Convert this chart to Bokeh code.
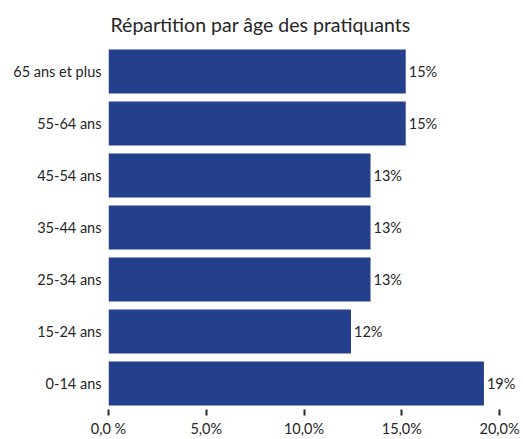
from bokeh.plotting import figure
from bokeh.models import FactorRange, FixedTicker, Range1d, ColumnDataSource
from bokeh.core.properties import value
from bokeh.embed import file_html
from bokeh.resources import INLINE

# Data (bottom to top)
categories = ["0-14 ans", "15-24 ans", "25-34 ans", "35-44 ans", "45-54 ans", "55-64 ans", "65 ans et plus"]
shares = [19.2, 12.4, 13.4, 13.4, 13.4, 15.2, 15.2]
share_labels = ["19%", "12%", "13%", "13%", "13%", "15%", "15%"]
tick_values = [0, 5, 10, 15, 20]
tick_labels = ["0,0 %", "5,0%", "10,0%", "15,0%", "20,0%"]
title_text = "Répartition par âge des pratiquants"

FONT = "Lato"
TEXT_COLOR = "#262626"
BAR_COLOR = "#243F8B"

src = ColumnDataSource(dict(cat=categories, val=shares, lab=share_labels))

p = figure(
    width=523, height=439,
    y_range=FactorRange(*categories, range_padding=0),
    x_range=Range1d(0, 21.07),
    output_backend="svg", toolbar_location=None,
    min_border_left=108, min_border_right=3,
    min_border_top=45, min_border_bottom=26,
)
p.outline_line_color = None
p.background_fill_color = "white"
p.border_fill_color = "white"

p.title.text = title_text
p.title.text_font = FONT
p.title.text_font_size = "19.5px"
p.title.text_font_style = "normal"
p.title.text_color = TEXT_COLOR
p.title.align = "left"
p.title.offset = 2
p.title.standoff = 20

p.hbar(y="cat", right="val", left=0, height=0.85, source=src,
       fill_color=BAR_COLOR, line_color=None)
p.text(x="val", y="cat", text="lab", source=src, x_offset=3,
       text_baseline="middle", text_align="left",
       text_font=value(FONT), text_font_size="14.5px", text_color=TEXT_COLOR)

p.xgrid.grid_line_color = None
p.ygrid.grid_line_color = None

xa = p.xaxis[0]
xa.ticker = FixedTicker(ticks=tick_values)
xa.major_label_overrides = {v: l for v, l in zip(tick_values, tick_labels)}
xa.axis_line_color = None
xa.major_tick_in = 0
xa.major_tick_out = 6
xa.major_tick_line_width = 2
xa.major_tick_line_color = TEXT_COLOR
xa.minor_tick_line_color = None
xa.major_label_text_font = FONT
xa.major_label_text_font_size = "14.5px"
xa.major_label_text_color = TEXT_COLOR
xa.major_label_standoff = 4

ya = p.yaxis[0]
ya.axis_line_color = None
ya.major_tick_line_color = None
ya.minor_tick_line_color = None
ya.major_tick_in = 0
ya.major_tick_out = 0
ya.major_label_text_font = FONT
ya.major_label_text_font_size = "14.5px"
ya.major_label_text_color = TEXT_COLOR
ya.major_label_standoff = 7

open("out.html", "w").write(file_html(p, INLINE))
